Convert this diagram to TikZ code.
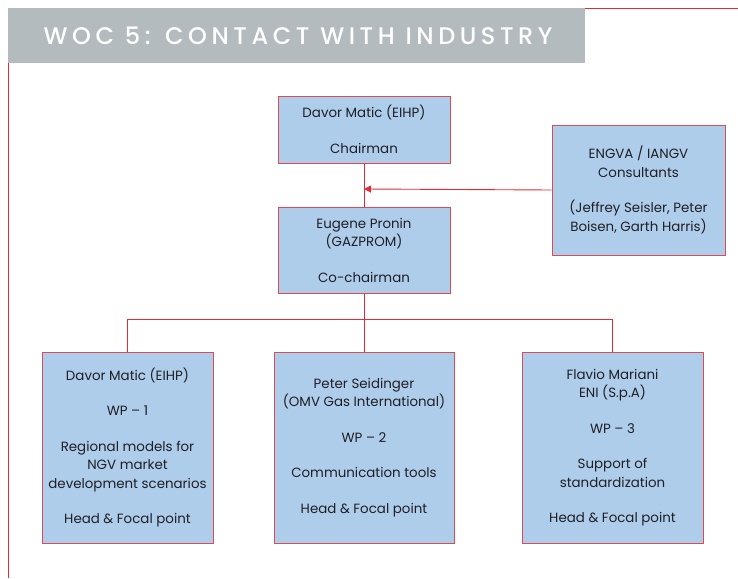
\documentclass[tikz,border=0pt]{standalone}
\usepackage{fontspec}
\setmainfont{Poppins}
\newfontfamily\titlefont[LetterSpace=19]{Poppins Medium}
\usetikzlibrary{arrows.meta}
\definecolor{boxfill}{HTML}{AECDEB}
\definecolor{boxline}{HTML}{DC4A52}
\definecolor{conn}{HTML}{E12B36}
\definecolor{hdr}{HTML}{B4BBBE}
\definecolor{txt}{HTML}{1F1F24}
\tikzset{
  orgbox/.style={draw=boxline, line width=1pt, fill=boxfill, inner sep=0pt, text=txt,
    font=\fontsize{13.4}{18.5}\selectfont, align=center},
  link/.style={draw=conn, line width=0.9pt},
}
\begin{document}
\begin{tikzpicture}[x=1pt,y=-1pt]
\useasboundingbox (0,0) rectangle (738,578);
% header
\fill[hdr] (8,8) rectangle (585,62.5);
\draw[link] (585,8) -- (738,8);
\draw[link] (8.8,62.5) -- (8.8,578);
\node[text=white, font=\titlefont\fontsize{24}{26}\selectfont, anchor=center] (title) at (298,36) {WOC 5: CONTACT WITH INDUSTRY};
% boxes
\node[orgbox, minimum width=172pt, minimum height=67pt] (chair) at (364,129.5) {Davor Matic (EIHP)\\[17pt]Chairman};
\node[orgbox, minimum width=172pt, minimum height=86pt] (cochair) at (364,250) {Eugene Pronin\\(GAZPROM)\\[17pt]Co-chairman};
\node[orgbox, minimum width=173pt, minimum height=130pt] (engva) at (638.5,190) {ENGVA / IANGV\\Consultants\\[17pt](Jeffrey Seisler, Peter\\Boisen, Garth Harris)};
\node[orgbox, minimum width=171pt, minimum height=191pt] (wp1) at (127.5,447.5) {Davor Matic (EIHP)\\[17pt]WP -- 1\\[17pt]Regional models for\\NGV market\\development scenarios\\[17pt]Head \& Focal point};
\node[orgbox, minimum width=180pt, minimum height=191pt] (wp2) at (364,447.5) {Peter Seidinger\\(OMV Gas International)\\[17pt]WP -- 2\\[17pt]Communication tools\\[17pt]Head \& Focal point};
\node[orgbox, minimum width=181pt, minimum height=191pt] (wp3) at (612.5,447.5) {Flavio Mariani\\ENI (S.p.A)\\[17pt]WP -- 3\\[17pt]Support of\\standardization\\[17pt]Head \& Focal point};
% connectors
\coordinate (mid) at (364,189);
\coordinate (bus) at (364,319);
\draw[link] (chair.south) -- (cochair.north);
\draw[link, -{Triangle[length=7pt,width=7pt]}] (engva.west) -- (mid);
\draw[link] (cochair.south) -- (bus);
\draw[link] (wp1.north) -- (wp1.north |- bus) -- (wp3.north |- bus) -- (wp3.north);
\draw[link] (bus) -- (wp2.north);
\end{tikzpicture}
\end{document}
